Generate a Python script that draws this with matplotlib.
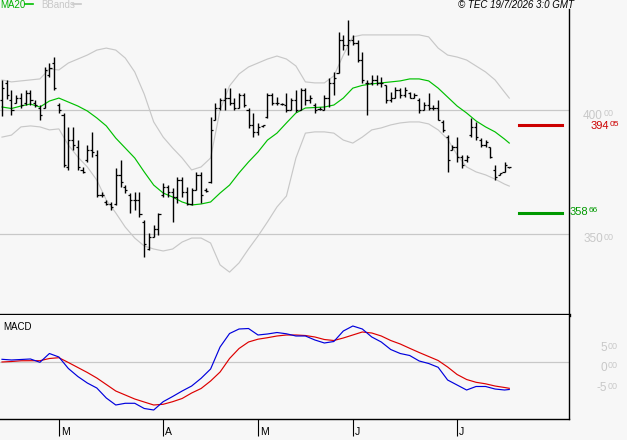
import matplotlib
matplotlib.use("Agg")
import matplotlib.pyplot as plt
import matplotlib.transforms as mtransforms

plt.rcParams['font.family'] = ['Liberation Sans', 'DejaVu Sans']

# daily bars (high, low, open, close)
highs = [412.1, 412.1, 408.0, 406.0, 406.8, 408.0, 408.0, 404.0, 402.0, 417.3,
         418.9, 421.3, 402.8, 398.8, 393.2, 393.2, 387.9, 377.1, 385.9, 391.2,
         383.9, 367.0, 363.8, 363.0, 376.7, 379.9, 369.8, 366.6, 367.0, 367.0,
         355.8, 350.5, 353.7, 358.6, 370.6, 369.8, 368.6, 373.1, 373.1, 369.0,
         368.6, 375.1, 375.1, 368.6, 397.2, 402.8, 404.8, 408.8, 408.8, 404.8,
         406.8, 406.8, 400.8, 398.8, 394.8, 394.0, 406.8, 406.8, 405.2, 402.8,
         406.8, 404.8, 408.0, 408.8, 408.8, 406.0, 402.8, 401.2, 406.0, 412.9,
         415.3, 431.4, 430.2, 436.2, 430.2, 428.2, 423.3, 412.1, 414.1, 414.1,
         413.3, 410.1, 407.2, 409.3, 408.8, 409.3, 407.2, 406.8, 404.8, 403.2,
         406.8, 402.0, 404.0, 396.0, 389.9, 385.9, 389.1, 381.9, 381.9, 396.8,
         395.2, 388.7, 387.9, 385.1, 377.9, 374.7, 379.1, 377.1]
lows = [397.6, 404.4, 398.0, 402.8, 400.8, 402.0, 402.0, 401.2, 396.0, 400.8,
        413.3, 408.0, 398.8, 377.1, 375.9, 383.9, 375.9, 374.7, 379.1, 381.1,
        365.0, 365.0, 361.8, 359.8, 361.8, 369.0, 366.6, 358.6, 359.8, 357.0,
        340.9, 343.7, 348.9, 349.7, 365.0, 365.0, 355.0, 362.6, 365.0, 361.8,
        361.8, 367.8, 362.6, 367.0, 370.6, 396.0, 400.0, 400.0, 402.0, 400.0,
        400.8, 401.2, 392.8, 389.1, 389.9, 393.2, 396.8, 402.0, 402.0, 402.0,
        399.2, 400.0, 399.2, 400.0, 402.0, 402.8, 398.8, 400.0, 400.0, 401.2,
        406.0, 414.9, 424.1, 422.1, 426.1, 419.3, 410.9, 398.0, 410.1, 410.1,
        409.3, 402.8, 403.2, 404.8, 404.8, 405.2, 404.8, 404.8, 398.8, 400.0,
        400.0, 400.0, 396.0, 391.2, 375.1, 383.9, 379.1, 376.7, 379.1, 389.1,
        387.9, 385.1, 385.1, 380.7, 371.8, 373.9, 375.1, 376.7]
opens = [404, 411, 404, 403, 405, 403, 407, 403, 401, 401,
         414, 419, 402, 398, 377, 388, 385, 376, 380, 384,
         382, 366, 363, 362, 362, 374, 369, 366, 364, 364,
         355, 344, 349, 352, 366, 369, 367, 365, 372, 367,
         362, 368, 374, 368, 371, 396, 401, 404, 405, 403,
         401, 406, 400, 394, 391, 393.5, 397, 406, 403, 402.5,
         402, 400, 404, 400, 408, 404, 402, 400.5, 400, 405,
         411, 415, 428, 426, 428, 427, 420, 411, 411, 412,
         411, 410, 404, 405, 408, 406, 407, 405, 404, 400,
         402, 401, 401, 395, 389, 384, 385, 381, 380, 390,
         393, 388, 386, 385, 376, 374, 375, 377]
closes = [409, 406, 400, 405, 402, 407, 404, 402, 398, 416,
          417, 409, 400, 378, 388, 386, 377, 375, 384, 383,
          366, 366, 362, 361, 374, 371, 368, 364, 364, 358,
          346, 349, 352, 358, 369, 367, 365, 372, 367, 362,
          368, 374, 366, 367.5, 392, 401, 404, 405, 403, 401,
          406, 402, 394, 391, 393, 394, 406, 403, 403, 402.5,
          400, 404, 400, 408, 404, 405, 400, 400.5, 405, 411,
          413, 428, 426, 428, 427, 420, 412, 411, 412, 411,
          411, 404, 405, 408, 406, 408, 405, 406, 400, 402,
          401, 401, 396, 392, 380, 385, 381, 378, 381, 393,
          389, 386, 387, 381, 373, 374.5, 378, 377]

# indicator lines, read every second bar
line_idx = list(range(0, 107, 2)) + [107]
ma20 = [401.2, 400.6, 401.6, 402.4, 401.2, 403.6, 404.8, 403.2, 401.6, 399.6,
        396.8, 393.6, 388.7, 384.7, 380.7, 375.1, 369.8, 366.6, 365.0, 363.0,
        361.8, 362.2, 363.0, 366.6, 369.8, 374.7, 379.1, 383.1, 387.9, 390.7,
        394.8, 398.8, 400.8, 401.0, 401.2, 402.0, 404.8, 408.8, 409.9, 410.5,
        410.9, 411.3, 411.7, 412.5, 412.5, 411.7, 408.8, 405.2, 401.6, 398.8,
        395.6, 393.2, 391.2, 388.3, 386.7]
bb_upper = [412.1, 411.3, 411.7, 412.1, 412.5, 416.5, 416.1, 418.9, 420.5, 422.1,
            424.1, 424.9, 424.1, 420.9, 415.3, 406.4, 395.2, 389.1, 384.7, 380.7,
            375.9, 377.1, 380.7, 400.0, 409.7, 414.5, 417.3, 418.9, 420.5, 421.7,
            420.5, 417.7, 411.3, 410.9, 410.9, 413.7, 422.1, 429.4, 430.2, 430.2,
            430.2, 430.2, 430.2, 430.2, 430.2, 429.4, 424.9, 422.1, 421.3, 420.1,
            417.7, 415.3, 412.1, 407.2, 404.8]
bb_lower = [389.1, 389.9, 393.2, 393.6, 393.2, 392.0, 392.4, 385.9, 381.1, 377.1,
            371.8, 363.8, 358.6, 352.9, 348.5, 345.3, 344.1, 343.3, 344.1, 346.9,
            348.5, 348.5, 346.5, 337.7, 334.8, 338.5, 344.1, 349.3, 355.0, 361.0,
            365.4, 380.7, 390.7, 391.2, 391.2, 390.7, 387.9, 386.7, 389.1, 392.0,
            392.8, 394.0, 394.8, 395.2, 395.2, 394.4, 392.0, 388.3, 381.9, 377.1,
            375.1, 373.9, 372.2, 370.2, 369.4]
macd = [0.75, 0.58, 0.70, 0.83, 0.0, 2.2, 1.33, -1.55, -3.55, -5.18,
        -6.43, -8.93, -10.68, -10.25, -10.25, -11.55, -11.93, -9.85, -8.55, -7.18,
        -5.93, -4.0, -1.68, 3.83, 7.2, 8.33, 8.45, 6.83, 7.08, 7.45,
        7.13, 6.58, 6.58, 5.58, 4.83, 5.2, 7.83, 9.08, 8.33, 6.33,
        5.08, 3.2, 2.2, 1.7, 0.33, -0.3, -1.25, -4.43, -5.68, -6.93,
        -6.05, -6.05, -6.68, -6.93, -6.8]
signal = [0.08, 0.2, 0.38, 0.4, 0.4, 0.95, 1.15, -0.05, -1.3, -2.55,
          -3.93, -5.55, -7.18, -8.18, -9.18, -9.93, -10.68, -10.5, -9.85, -9.05,
          -7.68, -6.55, -4.68, -2.43, 0.95, 3.45, 5.08, 5.78, 6.15, 6.58,
          6.83, 6.83, 6.7, 6.33, 5.7, 5.45, 6.08, 6.83, 7.58, 7.33,
          6.58, 5.45, 4.58, 3.5, 2.45, 1.45, 0.45, -1.18, -3.05, -4.3,
          -5.0, -5.38, -5.93, -6.3, -6.5]

month_idx = [12, 34, 54, 74, 96]
month_lbl = ['M', 'A', 'M', 'J', 'J']
price_grid = [400, 350]
resist, support = 394.05, 358.66

bg = '#f7f7f7'
grey = '#c8c8c8'
W, H = 627, 440

fig = plt.figure(figsize=(W / 100, H / 100), dpi=100, facecolor=bg)
ax = fig.add_axes([0, 1 - 315 / H, 569 / W, 315 / H], facecolor=bg)
axm = fig.add_axes([0, 1 - 419 / H, 569 / W, 104 / H], facecolor=bg)

def px(x, y):
    return x / W, 1 - y / H

# price panel
for g in price_grid:
    ax.axhline(g, color=grey, lw=0.9, zorder=1)
ax.plot(line_idx, bb_upper, color=grey, lw=0.85, zorder=2)
ax.plot(line_idx, bb_lower, color=grey, lw=0.85, zorder=2)
ax.plot(line_idx, ma20, color='#00c000', lw=0.85, zorder=3)

idx = list(range(len(highs)))
ax.vlines(idx, lows, highs, color='black', lw=1.0, zorder=4)
ax.hlines(opens, [i - 0.45 for i in idx], idx, color='black', lw=0.9, zorder=4)
ax.hlines(closes, idx, [i + 0.45 for i in idx], color='black', lw=0.9, zorder=4)

trans = mtransforms.blended_transform_factory(ax.transAxes, ax.transData)
ax.plot([519 / 569, 562 / 569], [resist, resist], color='#cc0000', lw=2.2, transform=trans)
ax.plot([519 / 569, 562 / 569], [support, support], color='#009900', lw=2.2, transform=trans)

ax.set_xlim(-0.42, 119.6)
ax.set_ylim(317.55, 444.24)
ax.set_xticks([])
ax.set_yticks([])
for s in ['top', 'left']:
    ax.spines[s].set_visible(False)
ax.spines['right'].set_bounds(317.55, 440.6)
ax.spines['right'].set_linewidth(1.0)
ax.spines['bottom'].set_linewidth(2.4)

# MACD panel
axm.axhline(0, color=grey, lw=0.9, zorder=1)
axm.plot(line_idx, signal, color='#dd0000', lw=0.85, zorder=2)
axm.plot(line_idx, macd, color='#0000dd', lw=0.85, zorder=3)
axm.set_xlim(-0.42, 119.6)
axm.set_ylim(-14.18, 11.83)
axm.set_yticks([])
axm.spines['top'].set_visible(False)
axm.spines['left'].set_visible(False)
axm.spines['right'].set_linewidth(1.0)
axm.spines['bottom'].set_linewidth(1.0)
axm.set_xticks(month_idx)
axm.set_xticklabels([])
axm.tick_params(axis='x', length=12.5, width=0.8, direction='out', color='black')
for i, m in zip(month_idx, month_lbl):
    axm.annotate(m, xy=(i, 0), xycoords=('data', 'axes fraction'),
                 xytext=(1.5, -13), textcoords='offset points',
                 fontsize=7.5, ha='left', va='bottom')
axm.text(3 / 569, 1 - 12 / 104, 'MACD', transform=axm.transAxes,
         fontsize=7, ha='left', va='center')

# header
fig.text(*px(0, 5), 'MA20', color='#00b000', fontsize=7, ha='left', va='center')
fig.add_artist(plt.Line2D([25 / W, 33 / W], [1 - 4 / H] * 2, color='#00c000', lw=1.2))
fig.text(*px(41, 5), 'BBands', color=grey, fontsize=7, ha='left', va='center')
fig.add_artist(plt.Line2D([73 / W, 81 / W], [1 - 4 / H] * 2, color=grey, lw=1.2))
fig.text(*px(574, 5), '\u00a9 TEC 19/7/2026 3:0 GMT', fontsize=7, style='italic',
         ha='right', va='center')

# right-hand labels
def split_label(xs, y, big, small, color, fs=8.5):
    fig.text(*px(xs, y), big, color=color, fontsize=fs, ha='right', va='center')
    fig.text(*px(xs + 1, y - 2), small, color=color, fontsize=fs - 2, ha='left', va='center')

split_label(603, 116, '400', '00', grey)
split_label(609, 126, '394', '05', '#cc0000', 8)
split_label(588, 212, '358', '66', '#009900', 8)
split_label(603, 239, '350', '00', grey)
split_label(607, 348, '5', '00', grey)
split_label(607, 368, '0', '00', grey)
split_label(607, 388, '-5', '00', grey)

fig.savefig('out.png', dpi=100, facecolor=bg)
